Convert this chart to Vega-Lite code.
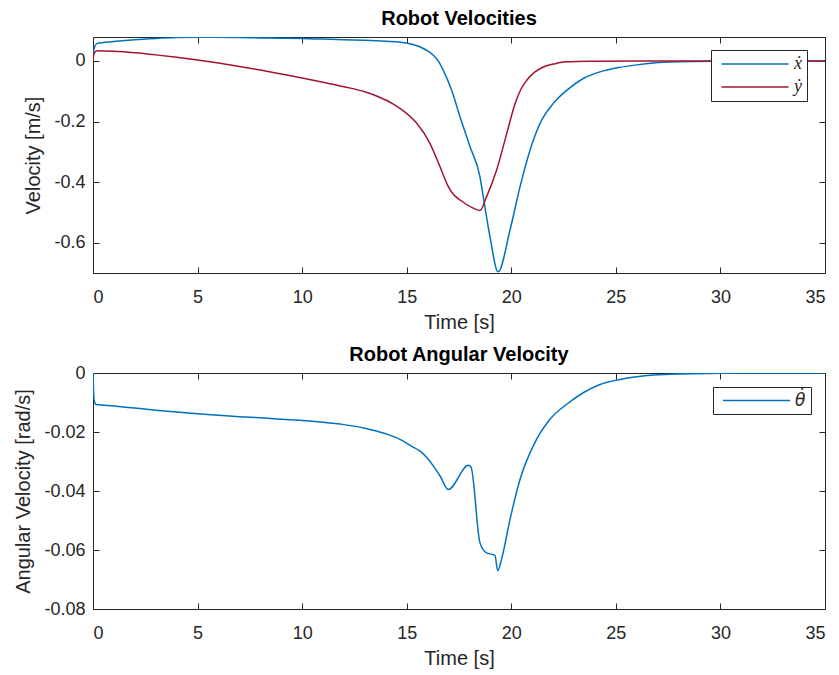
{
  "$schema": "https://vega.github.io/schema/vega-lite/v6.json",
  "background": "white",
  "padding": {"left": 13, "top": 8, "right": 2, "bottom": 2},
  "config": {
    "view": {"stroke": "#262626", "strokeWidth": 1},
    "font": "Liberation Sans",
    "axis": {
      "domain": false, "grid": false,
      "tickColor": "#262626", "tickSize": -6, "tickWidth": 1,
      "labelColor": "#262626", "labelFont": "Liberation Sans", "labelFontSize": 18, "labelPadding": 14,
      "titleColor": "#262626", "titleFont": "Liberation Sans", "titleFontSize": 20, "titleFontWeight": "normal", "titlePadding": 6
    },
    "axisX": {"labelPadding": 21},
    "axisY": {"labelPadding": 14, "titlePadding": 10},
    "title": {"font": "Liberation Sans", "fontSize": 20, "fontWeight": "bold", "color": "#000000", "offset": 8, "anchor": "middle", "frame": "group"},
    "legend": {
      "orient": "none", "title": null,
      "strokeColor": "#262626", "fillColor": "white", "padding": 5,
      "symbolType": "M-10,0H10", "symbolSize": 45, "symbolOffset": 30, "symbolStrokeWidth": 1.5,
      "labelOffset": 30, "labelFont": "Liberation Serif", "labelFontStyle": "italic", "labelFontSize": 18, "labelColor": "#262626",
      "rowPadding": 5
    },
    "concat": {"spacing": 11}
  },
  "resolve": {"scale": {"color": "independent"}, "legend": {"color": "independent"}},
  "vconcat": [
    {
      "width": 732, "height": 236,
      "title": {"text": "Robot Velocities"},
      "data": {"values": [
        {"t":0,"v":0.0,"s":"ẋ"},{"t":0.05,"v":0.04,"s":"ẋ"},{"t":0.2,"v":0.058,"s":"ẋ"},{"t":1,"v":0.064,"s":"ẋ"},{"t":2,"v":0.07,"s":"ẋ"},{"t":3,"v":0.074,"s":"ẋ"},{"t":4,"v":0.077,"s":"ẋ"},{"t":5,"v":0.078,"s":"ẋ"},{"t":6,"v":0.078,"s":"ẋ"},{"t":7,"v":0.077,"s":"ẋ"},{"t":8,"v":0.076,"s":"ẋ"},{"t":9,"v":0.075,"s":"ẋ"},{"t":10,"v":0.074,"s":"ẋ"},{"t":11,"v":0.072,"s":"ẋ"},{"t":12,"v":0.07,"s":"ẋ"},{"t":13,"v":0.068,"s":"ẋ"},{"t":14,"v":0.065,"s":"ẋ"},{"t":14.7,"v":0.062,"s":"ẋ"},{"t":15.2,"v":0.056,"s":"ẋ"},{"t":15.65,"v":0.046,"s":"ẋ"},{"t":16.0,"v":0.033,"s":"ẋ"},{"t":16.3,"v":0.017,"s":"ẋ"},{"t":16.55,"v":-0.005,"s":"ẋ"},{"t":16.75,"v":-0.031,"s":"ẋ"},{"t":17.15,"v":-0.097,"s":"ẋ"},{"t":17.55,"v":-0.185,"s":"ẋ"},{"t":18.03,"v":-0.283,"s":"ẋ"},{"t":18.5,"v":-0.382,"s":"ẋ"},{"t":18.66,"v":-0.448,"s":"ẋ"},{"t":18.98,"v":-0.58,"s":"ẋ"},{"t":19.37,"v":-0.696,"s":"ẋ"},{"t":19.94,"v":-0.558,"s":"ẋ"},{"t":20.42,"v":-0.415,"s":"ẋ"},{"t":20.9,"v":-0.294,"s":"ẋ"},{"t":21.37,"v":-0.207,"s":"ẋ"},{"t":22.0,"v":-0.141,"s":"ẋ"},{"t":22.65,"v":-0.097,"s":"ẋ"},{"t":23.44,"v":-0.058,"s":"ẋ"},{"t":24.24,"v":-0.036,"s":"ẋ"},{"t":25.12,"v":-0.022,"s":"ẋ"},{"t":26,"v":-0.013,"s":"ẋ"},{"t":26.8,"v":-0.007,"s":"ẋ"},{"t":28,"v":-0.003,"s":"ẋ"},{"t":30,"v":-0.001,"s":"ẋ"},{"t":32,"v":0,"s":"ẋ"},{"t":35,"v":0,"s":"ẋ"},
        {"t":0,"v":0.0,"s":"ẏ"},{"t":0.05,"v":0.025,"s":"ẏ"},{"t":0.2,"v":0.034,"s":"ẏ"},{"t":1,"v":0.032,"s":"ẏ"},{"t":2,"v":0.027,"s":"ẏ"},{"t":3,"v":0.02,"s":"ẏ"},{"t":4,"v":0.012,"s":"ẏ"},{"t":5,"v":0.003,"s":"ẏ"},{"t":6,"v":-0.007,"s":"ẏ"},{"t":7,"v":-0.018,"s":"ẏ"},{"t":8,"v":-0.03,"s":"ẏ"},{"t":9,"v":-0.043,"s":"ẏ"},{"t":10,"v":-0.056,"s":"ẏ"},{"t":11,"v":-0.07,"s":"ẏ"},{"t":12,"v":-0.085,"s":"ẏ"},{"t":13,"v":-0.102,"s":"ẏ"},{"t":13.7,"v":-0.12,"s":"ẏ"},{"t":14.3,"v":-0.14,"s":"ẏ"},{"t":14.9,"v":-0.168,"s":"ẏ"},{"t":15.48,"v":-0.206,"s":"ẏ"},{"t":16.11,"v":-0.272,"s":"ẏ"},{"t":16.59,"v":-0.349,"s":"ẏ"},{"t":16.99,"v":-0.415,"s":"ẏ"},{"t":17.25,"v":-0.442,"s":"ẏ"},{"t":17.55,"v":-0.459,"s":"ẏ"},{"t":18.18,"v":-0.486,"s":"ẏ"},{"t":18.5,"v":-0.494,"s":"ẏ"},{"t":18.82,"v":-0.448,"s":"ẏ"},{"t":19.3,"v":-0.36,"s":"ẏ"},{"t":19.78,"v":-0.24,"s":"ẏ"},{"t":20.18,"v":-0.141,"s":"ẏ"},{"t":20.45,"v":-0.095,"s":"ẏ"},{"t":20.74,"v":-0.064,"s":"ẏ"},{"t":21.1,"v":-0.038,"s":"ẏ"},{"t":21.53,"v":-0.02,"s":"ẏ"},{"t":22.1,"v":-0.009,"s":"ẏ"},{"t":22.65,"v":-0.003,"s":"ẏ"},{"t":24,"v":-0.001,"s":"ẏ"},{"t":26,"v":0,"s":"ẏ"},{"t":35,"v":0,"s":"ẏ"}
      ]},
      "resolve": {"axis": {"x": "independent", "y": "independent"}},
      "layer": [
        {
          "mark": {"type": "line", "strokeWidth": 1.5, "clip": true, "interpolate": "monotone"},
          "encoding": {
            "x": {"field": "t", "type": "quantitative", "scale": {"domain": [0, 35], "nice": false, "zero": false}, "axis": {"orient": "bottom", "values": [0,5,10,15,20,25,30,35], "title": "Time [s]"}},
            "y": {"field": "v", "type": "quantitative", "scale": {"domain": [-0.7, 0.079], "nice": false, "zero": false}, "axis": {"orient": "left", "values": [-0.6,-0.4,-0.2,0], "labelExpr": "'' + datum.value", "title": "Velocity [m/s]"}},
            "color": {"field": "s", "type": "nominal", "sort": null, "scale": {"domain": ["ẋ", "ẏ"], "range": ["#0072BD", "#A2142F"]}, "legend": {"legendX": 618, "legendY": 13}}
          }
        },
        {
          "mark": {"type": "line", "strokeOpacity": 0},
          "encoding": {
            "x": {"field": "t", "type": "quantitative", "axis": {"orient": "top", "values": [0,5,10,15,20,25,30,35], "labels": false, "title": null}},
            "y": {"field": "v", "type": "quantitative", "axis": {"orient": "right", "values": [-0.6,-0.4,-0.2,0], "labels": false, "title": null}},
            "detail": {"field": "s"}
          }
        }
      ]
    },
    {
      "width": 732, "height": 236,
      "title": {"text": "Robot Angular Velocity", "offset": -1},
      "data": {"values": [
        {"t":0,"v":0,"s":"θ̇"},{"t":0.05,"v":-0.009,"s":"θ̇"},{"t":0.15,"v":-0.0107,"s":"θ̇"},{"t":1,"v":-0.0112,"s":"θ̇"},{"t":2,"v":-0.0119,"s":"θ̇"},{"t":3,"v":-0.0126,"s":"θ̇"},{"t":4,"v":-0.0132,"s":"θ̇"},{"t":5,"v":-0.0138,"s":"θ̇"},{"t":6,"v":-0.0143,"s":"θ̇"},{"t":7,"v":-0.0148,"s":"θ̇"},{"t":8,"v":-0.0152,"s":"θ̇"},{"t":9,"v":-0.0157,"s":"θ̇"},{"t":10,"v":-0.0161,"s":"θ̇"},{"t":11,"v":-0.0167,"s":"θ̇"},{"t":12,"v":-0.0175,"s":"θ̇"},{"t":13,"v":-0.0187,"s":"θ̇"},{"t":14,"v":-0.0206,"s":"θ̇"},{"t":14.68,"v":-0.0225,"s":"θ̇"},{"t":15.2,"v":-0.0247,"s":"θ̇"},{"t":15.64,"v":-0.0265,"s":"θ̇"},{"t":16.0,"v":-0.029,"s":"θ̇"},{"t":16.27,"v":-0.0315,"s":"θ̇"},{"t":16.6,"v":-0.035,"s":"θ̇"},{"t":16.99,"v":-0.0395,"s":"θ̇"},{"t":17.95,"v":-0.0313,"s":"θ̇"},{"t":18.08,"v":-0.032,"s":"θ̇"},{"t":18.5,"v":-0.0575,"s":"θ̇"},{"t":18.82,"v":-0.061,"s":"θ̇"},{"t":19.22,"v":-0.0618,"s":"θ̇"},{"t":19.35,"v":-0.067,"s":"θ̇"},{"t":19.54,"v":-0.063,"s":"θ̇"},{"t":19.94,"v":-0.0496,"s":"θ̇"},{"t":20.42,"v":-0.036,"s":"θ̇"},{"t":21.05,"v":-0.0247,"s":"θ̇"},{"t":21.85,"v":-0.0157,"s":"θ̇"},{"t":22.65,"v":-0.0106,"s":"θ̇"},{"t":23.44,"v":-0.0067,"s":"θ̇"},{"t":24.24,"v":-0.0039,"s":"θ̇"},{"t":25.2,"v":-0.0022,"s":"θ̇"},{"t":26,"v":-0.0013,"s":"θ̇"},{"t":26.8,"v":-0.0007,"s":"θ̇"},{"t":28,"v":-0.0003,"s":"θ̇"},{"t":30,"v":-0.0001,"s":"θ̇"},{"t":32,"v":0,"s":"θ̇"},{"t":35,"v":0,"s":"θ̇"}
      ]},
      "resolve": {"axis": {"x": "independent", "y": "independent"}},
      "layer": [
        {
          "mark": {"type": "line", "strokeWidth": 1.5, "clip": true, "interpolate": "monotone"},
          "encoding": {
            "x": {"field": "t", "type": "quantitative", "scale": {"domain": [0, 35], "nice": false, "zero": false}, "axis": {"orient": "bottom", "values": [0,5,10,15,20,25,30,35], "title": "Time [s]"}},
            "y": {"field": "v", "type": "quantitative", "scale": {"domain": [-0.08, 0], "nice": false, "zero": false}, "axis": {"orient": "left", "values": [-0.08,-0.06,-0.04,-0.02,0], "labelExpr": "'' + datum.value", "title": "Angular Velocity [rad/s]"}},
            "color": {"field": "s", "type": "nominal", "scale": {"domain": ["θ̇"], "range": ["#0072BD"]}, "legend": {"legendX": 620, "legendY": 14, "labelFont": "DejaVu Sans", "labelFontSize": 17}}
          }
        },
        {
          "mark": {"type": "line", "strokeOpacity": 0},
          "encoding": {
            "x": {"field": "t", "type": "quantitative", "axis": {"orient": "top", "values": [0,5,10,15,20,25,30,35], "labels": false, "title": null}},
            "y": {"field": "v", "type": "quantitative", "axis": {"orient": "right", "values": [-0.08,-0.06,-0.04,-0.02,0], "labels": false, "title": null}}
          }
        }
      ]
    }
  ]
}
